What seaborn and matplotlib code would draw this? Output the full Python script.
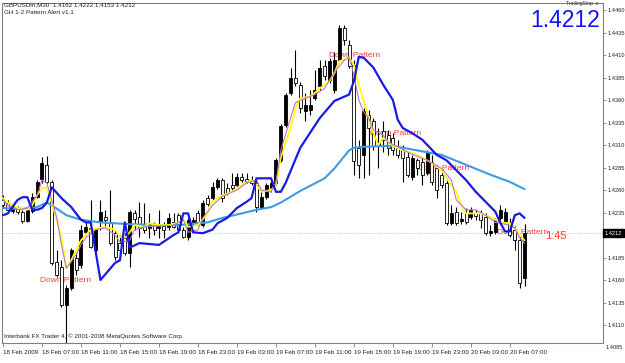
import numpy as np
import pandas as pd
import matplotlib
matplotlib.use("Agg")
import matplotlib.pyplot as plt
import seaborn as sns
from matplotlib.transforms import blended_transform_factory

sns.set_style("white")
plt.rcParams['font.family'] = ['Liberation Sans', 'DejaVu Sans']

# ---------------- data (GBPUSDm, M30) ----------------
opens = [1.4249, 1.4246, 1.4237, 1.4240, 1.4236, 1.4226, 1.4237, 1.4252, 1.4272, 1.4288,
         1.4269, 1.4180, 1.4174, 1.4132, 1.4151, 1.4184, 1.4177, 1.4213, 1.4218, 1.4193,
         1.4224, 1.4230, 1.4224, 1.4212, 1.4201, 1.4207, 1.4190, 1.4234, 1.4230, 1.4221,
         1.4218, 1.4221, 1.4218, 1.4220, 1.4219, 1.4224, 1.4232, 1.4216, 1.4208, 1.4223,
         1.4234, 1.4221, 1.4251, 1.4251, 1.4263, 1.4271, 1.4262, 1.4266, 1.4266, 1.4274,
         1.4272, 1.4271, 1.4268, 1.4241, 1.4252, 1.4262, 1.4268, 1.4293, 1.4332, 1.4368,
         1.4384, 1.4377, 1.4348, 1.4349, 1.4362, 1.4376, 1.4398, 1.4382, 1.4371, 1.4404,
         1.4440, 1.4421, 1.4399, 1.4307, 1.4299, 1.4343, 1.4337, 1.4309, 1.4326, 1.4321,
         1.4318, 1.4308, 1.4304, 1.4297, 1.4274, 1.4293, 1.4291, 1.4279, 1.4291, 1.4284,
         1.4277, 1.4268, 1.4223, 1.4236, 1.4226, 1.4234, 1.4230, 1.4234, 1.4234, 1.4230,
         1.4212, 1.4213, 1.4229, 1.4224, 1.4223, 1.4216, 1.4204, 1.4162]
closes = [1.4243, 1.4238, 1.4241, 1.4236, 1.4226, 1.4238, 1.4252, 1.4269, 1.4290, 1.4269,
          1.4179, 1.4166, 1.4132, 1.4151, 1.4193, 1.4171, 1.4216, 1.4219, 1.4197, 1.4216,
          1.4236, 1.4227, 1.4201, 1.4186, 1.4193, 1.4190, 1.4236, 1.4228, 1.4218, 1.4216,
          1.4223, 1.4216, 1.4220, 1.4216, 1.4229, 1.4219, 1.4216, 1.4208, 1.4227, 1.4227,
          1.4223, 1.4246, 1.4244, 1.4263, 1.4271, 1.4251, 1.4257, 1.4262, 1.4274, 1.4271,
          1.4270, 1.4268, 1.4241, 1.4252, 1.4266, 1.4268, 1.4293, 1.4331, 1.4366, 1.4384,
          1.4379, 1.4351, 1.4354, 1.4354, 1.4371, 1.4396, 1.4387, 1.4403, 1.4404, 1.4440,
          1.4427, 1.4398, 1.4292, 1.4288, 1.4348, 1.4329, 1.4309, 1.4312, 1.4316, 1.4307,
          1.4304, 1.4299, 1.4296, 1.4277, 1.4296, 1.4284, 1.4277, 1.4302, 1.4269, 1.4260,
          1.4266, 1.4223, 1.4234, 1.4223, 1.4228, 1.4224, 1.4238, 1.4231, 1.4227, 1.4212,
          1.4214, 1.4227, 1.4238, 1.4236, 1.4210, 1.4204, 1.4157, 1.4212]
highs = [1.4254, 1.4249, 1.4243, 1.4242, 1.4238, 1.4240, 1.4257, 1.4271, 1.4297, 1.4298,
         1.4271, 1.4193, 1.4182, 1.4154, 1.4196, 1.4190, 1.4221, 1.4224, 1.4249, 1.4218,
         1.4249, 1.4238, 1.4260, 1.4216, 1.4210, 1.4212, 1.4238, 1.4238, 1.4247, 1.4246,
         1.4234, 1.4224, 1.4238, 1.4224, 1.4234, 1.4234, 1.4234, 1.4219, 1.4229, 1.4230,
         1.4238, 1.4249, 1.4254, 1.4269, 1.4273, 1.4273, 1.4268, 1.4279, 1.4279, 1.4279,
         1.4279, 1.4276, 1.4271, 1.4260, 1.4268, 1.4273, 1.4296, 1.4333, 1.4368, 1.4396,
         1.4416, 1.4380, 1.4368, 1.4371, 1.4393, 1.4404, 1.4404, 1.4407, 1.4413, 1.4443,
         1.4443, 1.4427, 1.4404, 1.4316, 1.4351, 1.4349, 1.4340, 1.4329, 1.4337, 1.4327,
         1.4323, 1.4316, 1.4310, 1.4302, 1.4299, 1.4296, 1.4296, 1.4304, 1.4299, 1.4288,
         1.4282, 1.4273, 1.4243, 1.4241, 1.4236, 1.4240, 1.4241, 1.4238, 1.4238, 1.4234,
         1.4221, 1.4229, 1.4243, 1.4240, 1.4229, 1.4220, 1.4209, 1.4222]
lows = [1.4240, 1.4236, 1.4234, 1.4233, 1.4223, 1.4224, 1.4234, 1.4251, 1.4268, 1.4267,
        1.4177, 1.4163, 1.4130, 1.4090, 1.4149, 1.4166, 1.4173, 1.4211, 1.4196, 1.4191,
        1.4216, 1.4219, 1.4199, 1.4182, 1.4188, 1.4188, 1.4174, 1.4216, 1.4208, 1.4212,
        1.4207, 1.4210, 1.4207, 1.4207, 1.4216, 1.4218, 1.4213, 1.4207, 1.4204, 1.4220,
        1.4221, 1.4219, 1.4242, 1.4249, 1.4261, 1.4247, 1.4254, 1.4260, 1.4263, 1.4269,
        1.4268, 1.4266, 1.4236, 1.4239, 1.4250, 1.4258, 1.4266, 1.4291, 1.4330, 1.4366,
        1.4376, 1.4346, 1.4337, 1.4343, 1.4360, 1.4371, 1.4382, 1.4379, 1.4368, 1.4402,
        1.4421, 1.4396, 1.4277, 1.4273, 1.4273, 1.4277, 1.4304, 1.4284, 1.4302, 1.4299,
        1.4299, 1.4296, 1.4269, 1.4274, 1.4271, 1.4277, 1.4266, 1.4277, 1.4266, 1.4251,
        1.4262, 1.4221, 1.4221, 1.4221, 1.4222, 1.4222, 1.4228, 1.4227, 1.4218, 1.4210,
        1.4209, 1.4211, 1.4227, 1.4222, 1.4208, 1.4193, 1.4151, 1.4153]

# fast MA (yellow)
yellow_bar = [0, 1, 3, 5, 6, 7, 8, 9, 10, 12, 13, 14, 15, 16, 18, 20, 21, 23, 24, 25, 26, 27,
              29, 30, 32, 34, 36, 37, 38, 40, 42, 43, 45, 47, 49, 51, 52, 53, 55, 56, 57, 59,
              60, 61, 63, 64, 65, 67, 68, 69, 71, 72, 73, 74, 75, 76, 77, 78, 79, 80, 82, 84,
              86, 88, 90, 91, 93, 94, 95, 96, 98, 100, 101, 102, 104, 105, 106, 107]
yellow_val = [1.4251, 1.4246, 1.4240, 1.4238, 1.4243, 1.4254, 1.4262, 1.4263, 1.4246,
              1.4208, 1.4173, 1.4182, 1.4193, 1.4204, 1.4216, 1.4218, 1.4219, 1.4216, 1.4208,
              1.4207, 1.4213, 1.4221, 1.4219, 1.4223, 1.4221, 1.4221, 1.4224, 1.4227, 1.4219,
              1.4221, 1.4234, 1.4247, 1.4254, 1.4258, 1.4266, 1.4271, 1.4266, 1.4258, 1.4260,
              1.4266, 1.4296, 1.4329, 1.4351, 1.4362, 1.4364, 1.4368, 1.4373, 1.4381, 1.4390,
              1.4403, 1.4407, 1.4399, 1.4377, 1.4359, 1.4340, 1.4323, 1.4310, 1.4318, 1.4314,
              1.4309, 1.4304, 1.4301, 1.4296, 1.4290, 1.4282, 1.4273, 1.4258, 1.4243, 1.4234,
              1.4234, 1.4234, 1.4230, 1.4227, 1.4224, 1.4223, 1.4218, 1.4210, 1.4204]

# faster MA (violet)
violet_bar = [0, 1, 3, 5, 7, 8, 9, 11, 12, 13, 15, 16, 17, 19, 21, 23, 24, 26, 27, 29, 32, 35,
              37, 38, 40, 41, 43, 45, 48, 50, 52, 53, 55, 56, 57, 59, 60, 62, 64, 66, 68, 70,
              71, 72, 73, 74, 75, 76, 78, 79, 81, 83, 87, 90, 92, 93, 95, 97, 99, 101, 103,
              105, 106, 107]
violet_val = [1.4249, 1.4243, 1.4238, 1.4240, 1.4254, 1.4271, 1.4268, 1.4230, 1.4199, 1.4173,
              1.4188, 1.4199, 1.4207, 1.4216, 1.4218, 1.4210, 1.4202, 1.4204, 1.4216, 1.4219,
              1.4220, 1.4221, 1.4227, 1.4213, 1.4216, 1.4229, 1.4243, 1.4253, 1.4260, 1.4268,
              1.4271, 1.4260, 1.4258, 1.4268, 1.4304, 1.4340, 1.4357, 1.4362, 1.4366, 1.4373,
              1.4391, 1.4404, 1.4408, 1.4388, 1.4360, 1.4347, 1.4340, 1.4327, 1.4321, 1.4313,
              1.4308, 1.4302, 1.4293, 1.4284, 1.4271, 1.4249, 1.4238, 1.4238, 1.4232, 1.4224,
              1.4222, 1.4218, 1.4207, 1.4201]

# slow MA (light blue)
slow_bar = [0, 4, 7, 9, 10, 13, 16, 20, 26, 33, 36, 42, 45, 49, 52, 55, 57, 61, 66, 68,
            71, 72, 74, 79, 81, 85, 90, 95, 100, 104, 107]
slow_val = [1.4240, 1.4239, 1.4241, 1.4246, 1.4243, 1.4232, 1.4227, 1.4224, 1.4222, 1.4221,
            1.4221, 1.4224, 1.4229, 1.4234, 1.4238, 1.4241, 1.4246, 1.4259, 1.4273, 1.4284,
            1.4304, 1.4307, 1.4308, 1.4309, 1.4308, 1.4304, 1.4299, 1.4288, 1.4277, 1.4269,
            1.4261]

# trailing line (blue)
trail_bar = [0, 1, 3, 4, 5, 6, 7, 8, 9, 10, 12, 14, 16, 17, 18, 20, 23, 24, 25, 26, 28, 32,
             35, 36, 37, 38, 39, 41, 43, 44, 46, 48, 50, 51, 52, 55, 56, 57, 58, 61, 65, 68,
             71, 72, 73, 74, 76, 78, 80, 81, 82, 84, 86, 89, 91, 93, 95, 97, 99, 101, 102,
             103, 104, 105, 106, 107]
trail_val = [1.4232, 1.4234, 1.4249, 1.4252, 1.4252, 1.4238, 1.4238, 1.4240, 1.4246, 1.4263,
             1.4251, 1.4241, 1.4227, 1.4224, 1.4224, 1.4160, 1.4179, 1.4182, 1.4224, 1.4196,
             1.4201, 1.4199, 1.4210, 1.4213, 1.4234, 1.4234, 1.4213, 1.4212, 1.4216, 1.4223,
             1.4229, 1.4240, 1.4247, 1.4251, 1.4273, 1.4273, 1.4258, 1.4258, 1.4268, 1.4307,
             1.4340, 1.4359, 1.4366, 1.4381, 1.4408, 1.4407, 1.4396, 1.4377, 1.4360, 1.4338,
             1.4329, 1.4323, 1.4316, 1.4299, 1.4293, 1.4282, 1.4271, 1.4258, 1.4247, 1.4236,
             1.4224, 1.4214, 1.4214, 1.4232, 1.4234, 1.4229]

pattern_bar = [7.6, 66.9, 75.3, 85.1, 101.3]
pattern_price = [1.4160, 1.4409, 1.4323, 1.4284, 1.4213]

xtick_bars = [0, 8, 16, 24, 32, 40, 48, 56, 64, 72, 80, 88, 96, 104]
xtick_labels = ["18 Feb 2009", "18 Feb 07:00", "18 Feb 11:00", "18 Feb 15:00",
                "18 Feb 19:00", "18 Feb 23:00", "19 Feb 03:00", "19 Feb 07:00",
                "19 Feb 11:00", "19 Feb 15:00", "19 Feb 19:00", "19 Feb 23:00",
                "20 Feb 03:00", "20 Feb 07:00"]
ytick_vals = [1.4110, 1.4135, 1.4160, 1.4185, 1.4235, 1.4260, 1.4285, 1.4310,
              1.4335, 1.4360, 1.4385, 1.4410, 1.4435, 1.4460]
last_price = 1.4212

# ---------------- figure ----------------
fig = plt.figure(figsize=(6.25, 3.63), dpi=100)
fig.patch.set_facecolor('white')
ax = fig.add_axes([2 / 625, 20 / 363, 601 / 625, 340 / 363])
ax.set_facecolor('white')

df = pd.DataFrame({'bar': np.arange(len(opens)), 'open': opens, 'close': closes,
                   'high': highs, 'low': lows})
up = df['close'] >= df['open']
body_bot = np.minimum(df['open'], df['close'])
body_h = np.maximum((df['close'] - df['open']).abs(), 0.00002)

# wicks
ax.vlines(df['bar'], df['low'], df['high'], color='black', lw=0.8, zorder=3)
# bodies: black = rising, white = falling
ax.bar(df['bar'][up], body_h[up], bottom=body_bot[up], width=0.62,
       color='black', edgecolor='black', lw=0.6, zorder=4)
ax.bar(df['bar'][~up], body_h[~up], bottom=body_bot[~up], width=0.62,
       color='white', edgecolor='black', lw=0.6, zorder=4)

# indicator lines
sns.lineplot(x=slow_bar, y=slow_val, ax=ax, color='#3a9be8', lw=1.5,
             estimator=None, sort=False, zorder=5)
sns.lineplot(x=trail_bar, y=trail_val, ax=ax, color='#1a1ae6', lw=1.6,
             estimator=None, sort=False, zorder=6)
sns.lineplot(x=yellow_bar, y=yellow_val, ax=ax, color='#ffff00', lw=1.3,
             estimator=None, sort=False, zorder=5)
sns.lineplot(x=violet_bar, y=violet_val, ax=ax, color='#c070d8', lw=0.8,
             estimator=None, sort=False, zorder=5)

# current price dotted line
ax.axhline(last_price, color='#b8b8b8', lw=0.6, ls=(0, (1, 2)), zorder=1)

# pattern labels
for b, p in zip(pattern_bar, pattern_price):
    ax.text(b, p, "Down Pattern", color='#ff3b3b', fontsize=6, ha='left',
            va='center', zorder=2)
ax.text(111.3, 1.4209, "1:45", color='#ff3b3b', fontsize=8, ha='left',
        va='center', zorder=2)

ax.set_xlim(-0.2, 123.1)
ax.set_ylim(1.40900, 1.44678)
ax.set_xlabel("")
ax.set_ylabel("")

# axes styling
for s in ax.spines.values():
    s.set_color('#808080')
    s.set_linewidth(0.8)
ax.yaxis.tick_right()
ax.set_yticks(ytick_vals)
ax.set_yticklabels([f"{v:.4f}" for v in ytick_vals])
ax.set_xticks(xtick_bars)
ax.set_xticklabels(xtick_labels)
ax.tick_params(axis='y', length=2, width=0.6, color='#808080', pad=1,
               labelsize=4.1, labelcolor='#222222')
ax.tick_params(axis='x', length=3, width=0.6, color='#808080', pad=2,
               labelsize=4.5, labelcolor='#222222', bottom=True)
for lab in ax.get_xticklabels():
    lab.set_ha('left')

tr = blended_transform_factory(ax.transAxes, ax.transData)
ax.text(1.005, 1.4085, "1.4085", transform=tr, fontsize=4.1, color='#222222',
        ha='left', va='center', clip_on=False)
ax.text(1.003, last_price, f"{last_price:.4f}", transform=tr, fontsize=4.1,
        color='white', ha='left', va='center', clip_on=False,
        bbox=dict(facecolor='black', edgecolor='black', pad=1.0))

# overlay texts
fig.text(4 / 625, 1 - 5 / 363, "GBPUSDm,M30  1.4162 1.4222 1.4153 1.4212",
         fontsize=4.5, color='#222222', ha='left', va='center')
fig.text(4 / 625, 1 - 13 / 363, "GH 1-2 Pattern Alert v1.1",
         fontsize=4.5, color='#222222', ha='left', va='center')
fig.text(566 / 625, 1 - 4 / 363, "TrailingStop  x", fontsize=3.6,
         color='#333333', ha='left', va='center')
fig.text(600 / 625, 1 - 27 / 363, "1.4212", fontsize=16.5, color='#1414ff',
         ha='right', va='baseline')
fig.text(4 / 625, 1 - 336 / 363,
         "Interbank FX Trader 4, \u00a9 2001-2008 MetaQuotes Software Corp.",
         fontsize=4.5, color='#222222', ha='left', va='center')

fig.savefig("out.png", dpi=100, facecolor='white')
